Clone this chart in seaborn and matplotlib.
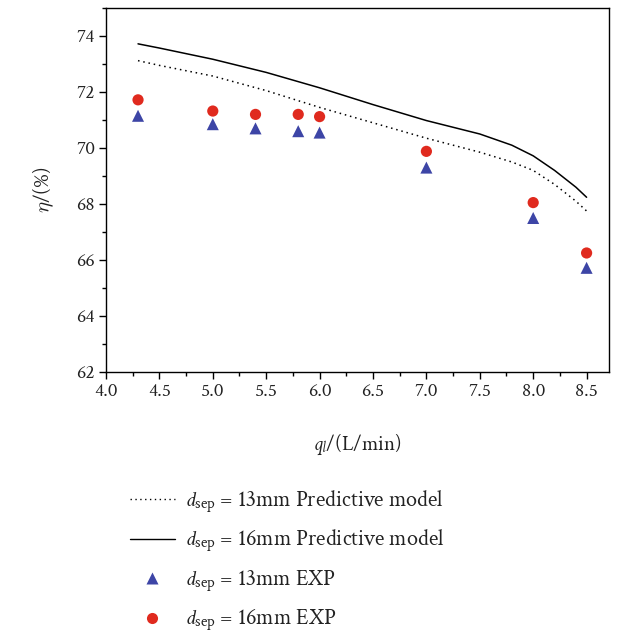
import matplotlib
matplotlib.use("Agg")
import matplotlib.pyplot as plt
import seaborn as sns
import pandas as pd
from matplotlib.lines import Line2D
from matplotlib.ticker import MultipleLocator

sns.set_theme(style="ticks")
plt.rcParams['font.family'] = ['Crimson Text', 'Liberation Serif', 'DejaVu Serif']
plt.rcParams['mathtext.fontset'] = 'custom'
plt.rcParams['mathtext.rm'] = 'Crimson Text'
plt.rcParams['mathtext.it'] = 'Crimson Text:italic'
plt.rcParams['mathtext.bf'] = 'Crimson Text:bold'

# Predictive model curves
model_x = [4.3, 4.5, 5.0, 5.5, 6.0, 6.5, 7.0, 7.5, 7.8, 8.0, 8.2, 8.4, 8.5]
model_13 = [73.12, 72.95, 72.57, 72.05, 71.45, 70.9, 70.35, 69.85, 69.5, 69.2, 68.7, 68.1, 67.75]
model_16 = [73.72, 73.57, 73.17, 72.7, 72.15, 71.55, 70.98, 70.5, 70.1, 69.72, 69.2, 68.6, 68.24]

# Experimental points
exp_x = [4.3, 5.0, 5.4, 5.8, 6.0, 7.0, 8.0, 8.5]
exp_13 = [71.15, 70.85, 70.7, 70.6, 70.55, 69.3, 67.5, 65.72]
exp_16 = [71.72, 71.32, 71.2, 71.2, 71.12, 69.88, 68.05, 66.25]

labels = [r"$d_{\rm sep}$ = 13mm Predictive model",
          r"$d_{\rm sep}$ = 16mm Predictive model",
          r"$d_{\rm sep}$ = 13mm EXP",
          r"$d_{\rm sep}$ = 16mm EXP"]

red = "#e02a1e"
blue = "#3d45a6"

fig = plt.figure(figsize=(6.4, 6.35), dpi=100)
ax = fig.add_axes([0.1656, 0.4142, 0.786, 0.5732])

df_m = pd.DataFrame({"x": model_x, "y13": model_13, "y16": model_16})
df_e = pd.DataFrame({"x": exp_x, "y13": exp_13, "y16": exp_16})

sns.lineplot(data=df_m, x="x", y="y13", ax=ax, color="black", lw=1.1,
             linestyle=(0, (1, 2.5)))
sns.lineplot(data=df_m, x="x", y="y16", ax=ax, color="black", lw=1.1)
sns.scatterplot(data=df_e, x="x", y="y13", ax=ax, marker="^", color=blue,
                s=75, edgecolor="none")
sns.scatterplot(data=df_e, x="x", y="y16", ax=ax, marker="o", color=red,
                s=65, edgecolor="none")

ax.set_xlim(4.0, 8.71)
ax.set_ylim(62, 75)
ax.xaxis.set_major_locator(MultipleLocator(0.5))
ax.xaxis.set_minor_locator(MultipleLocator(0.25))
ax.yaxis.set_major_locator(MultipleLocator(2))
ax.yaxis.set_minor_locator(MultipleLocator(1))
ax.tick_params(which="major", direction="out", length=5, width=1, labelsize=14,
               color="black", labelcolor="#222222", pad=3)
ax.tick_params(which="minor", direction="out", length=3, width=1, color="black")
for s in ax.spines.values():
    s.set_color("black")
    s.set_linewidth(1)

ax.set_xlabel(r"$q_l$/(L/min)", fontsize=15, labelpad=24, color="#222222")
ax.set_ylabel(r"$\eta$/(%)", fontsize=15, labelpad=14, color="#222222")

handles = [
    Line2D([], [], color="black", lw=1.0, linestyle=(0, (1, 2.5))),
    Line2D([], [], color="black", lw=1.0),
    Line2D([], [], color=blue, marker="^", linestyle="none", markersize=9, markeredgecolor="none"),
    Line2D([], [], color=red, marker="o", linestyle="none", markersize=8, markeredgecolor="none"),
]
fig.legend(handles, labels, loc="upper left", bbox_to_anchor=(0.172, 0.262),
           frameon=False, fontsize=16, handlelength=2.0, handletextpad=0.45,
           labelspacing=0.55, labelcolor="#222222")

fig.savefig("out.png", dpi=100)
